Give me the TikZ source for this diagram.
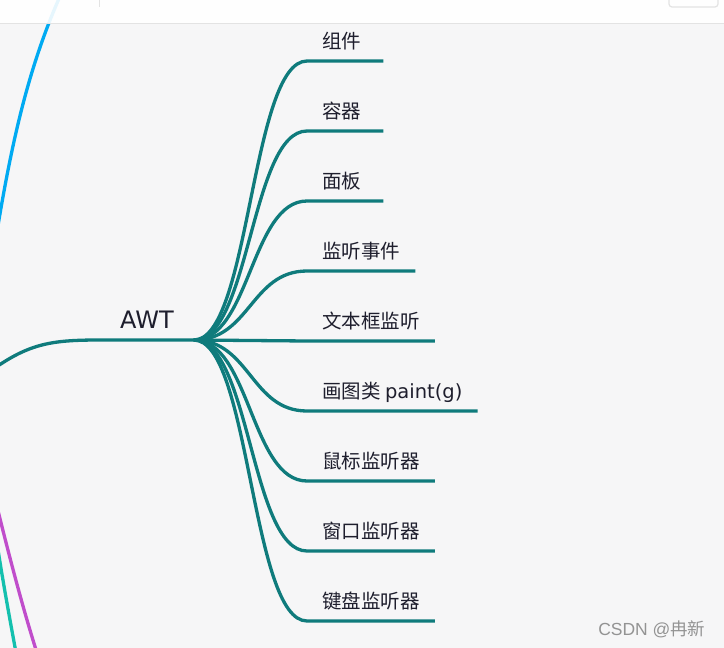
\documentclass[tikz,border=0pt]{standalone}
\usepackage{fontspec}
\setmainfont{Noto Sans CJK SC}
\newfontfamily\latinfont{DejaVu Sans}
\newfontfamily\markfont{Liberation Sans}
\usepackage{tikz}
\usetikzlibrary{positioning}
\definecolor{canvas}{HTML}{F6F6F7}
\definecolor{awtteal}{HTML}{0F7B7C}
\definecolor{skyblue}{HTML}{00AAF2}
\definecolor{orchid}{HTML}{C04DCB}
\definecolor{aqua}{HTML}{14C0AE}
\definecolor{inktext}{HTML}{1E1E2D}
\definecolor{edgegray}{HTML}{E3E3E3}

\begin{document}
\begin{tikzpicture}[
  x=1pt, y=-1pt,
  node distance=29.6pt,
  topic/.style={anchor=south west, inner xsep=20pt, inner ysep=11pt, text height=17.5pt, text depth=0pt, text=inktext, font=\latinfont\fontsize{24}{24}\selectfont},
  leaf/.style={inner xsep=15pt, inner ysep=12pt, text height=16pt, text depth=0pt, text=inktext, font=\fontsize{19.5}{19.5}\selectfont},
  short/.style={text width=46pt, align=left},
  branch/.style={awtteal, line width=3.3pt},
  limb/.style={line width=3.3pt}
]
  \useasboundingbox (0,0) rectangle (724,648);
  \fill[canvas] (0,0) rectangle (724,648);
  \clip (0,0) rectangle (724,648);

  \coordinate (bluetail) at (-6,250);
  \coordinate (bluehead) at (70,-25);
  \coordinate (tealtail) at (-40,395);
  \coordinate (orchidhead) at (-12,470);
  \coordinate (orchidtail) at (46,680);
  \coordinate (aquahead) at (-8,510);
  \coordinate (aquatail) at (21,680);

  \node[topic] (awt) at (100,340) {AWT};
  \node[leaf, short, anchor=south west] (zujian) at (307,61) {组件};
  \node[leaf, short, below=of zujian.south west, anchor=north west] (rongqi) {容器};
  \node[leaf, short, below=of rongqi.south west, anchor=north west] (mianban) {面板};
  \node[leaf, below=of mianban.south west, anchor=north west] (jianting) {监听事件};
  \node[leaf, below=of jianting.south west, anchor=north west] (wenbenkuang) {文本框监听};
  \node[leaf, below=of wenbenkuang.south west, anchor=north west] (huatu) {画图类 {\latinfont paint(g)}};
  \node[leaf, below=of huatu.south west, anchor=north west] (shubiao) {鼠标监听器};
  \node[leaf, below=of shubiao.south west, anchor=north west] (chuangkou) {窗口监听器};
  \node[leaf, below=of chuangkou.south west, anchor=north west] (jianpan) {键盘监听器};

  \draw[limb, skyblue] (bluetail) .. controls (10,150) and (28,60) .. (bluehead);
  \draw[limb, orchid] (orchidhead) .. controls (5,540) and (25,620) .. (orchidtail);
  \draw[limb, aqua] (aquahead) .. controls (2,580) and (12,630) .. (aquatail);
  \draw[branch] (tealtail) .. controls (20,345) and (40,340) .. (awt.south west) -- (awt.south east);

  \draw[branch] (awt.south east) .. controls +(56,0) and +(-56,0) .. (zujian.south west) -- (zujian.south east);
  \draw[branch] (awt.south east) .. controls +(56,0) and +(-56,0) .. (rongqi.south west) -- (rongqi.south east);
  \draw[branch] (awt.south east) .. controls +(56,0) and +(-56,0) .. (mianban.south west) -- (mianban.south east);
  \draw[branch] (awt.south east) .. controls +(56,0) and +(-56,0) .. (jianting.south west) -- (jianting.south east);
  \draw[branch] (awt.south east) -- (wenbenkuang.south west) -- (wenbenkuang.south east);
  \draw[branch] (awt.south east) .. controls +(56,0) and +(-56,0) .. (huatu.south west) -- (huatu.south east);
  \draw[branch] (awt.south east) .. controls +(56,0) and +(-56,0) .. (shubiao.south west) -- (shubiao.south east);
  \draw[branch] (awt.south east) .. controls +(56,0) and +(-56,0) .. (chuangkou.south west) -- (chuangkou.south east);
  \draw[branch] (awt.south east) .. controls +(56,0) and +(-56,0) .. (jianpan.south west) -- (jianpan.south east);

  \fill[white, opacity=0.9] (0,0) rectangle (724,23);
  \draw[edgegray, line width=1.5pt] (0,23.5) -- (724,23.5);
  \draw[edgegray, line width=1pt] (99,0) -- (99,7);
  \draw[edgegray, line width=1.2pt, rounded corners=3pt] (669,-6) rectangle (718,7);

  \node[anchor=east, text=gray!85, font=\fontsize{17.5}{17.5}\selectfont] (mark) at (709,629) {{\markfont CSDN @}冉新};
\end{tikzpicture}
\end{document}
